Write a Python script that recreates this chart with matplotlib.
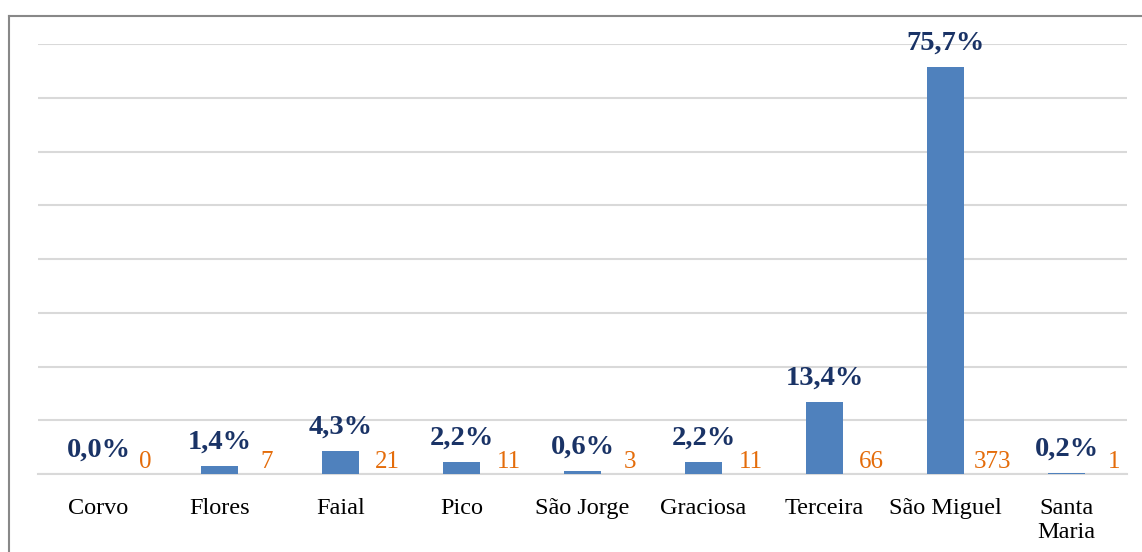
import matplotlib

matplotlib.use("Agg")
import matplotlib.pyplot as plt
from matplotlib.lines import Line2D

islands = ["Corvo", "Flores", "Faial", "Pico", "São Jorge", "Graciosa",
           "Terceira", "São Miguel", "Santa\nMaria"]
pct = [0.0, 1.4, 4.3, 2.2, 0.6, 2.2, 13.4, 75.7, 0.2]
counts = [0, 7, 21, 11, 3, 11, 66, 373, 1]

BAR = "#4F81BD"
NAVY = "#1A3366"
ORANGE = "#E46C0A"
GRID = "#D9D9D9"
FONT = "Liberation Serif"

fig = plt.figure(figsize=(11.42, 5.52), dpi=100)
ax = fig.add_axes([38 / 1142, 78 / 552, 1089 / 1142, 430 / 552])

x = list(range(len(islands)))
ax.bar(x, pct, width=0.314, color=BAR, zorder=3)

for xi, p, c in zip(x, pct, counts):
    ax.annotate(f"{p:.1f}%".replace(".", ","), (xi, p), xytext=(0, 12.5),
                textcoords="offset points", ha="center", va="baseline",
                fontsize=20.5, fontweight="bold", color=NAVY, family=FONT)
    ax.annotate(str(c), (xi + 0.39, 0), xytext=(0, 4.5),
                textcoords="offset points", ha="center", va="baseline",
                fontsize=18, color=ORANGE, family=FONT)

ax.set_xlim(-0.5, len(islands) - 0.5)
ax.set_ylim(0, 80)
ax.set_yticks(range(0, 81, 10))
ax.set_yticklabels([])
ax.tick_params(axis="y", length=0)
ax.grid(axis="y", color=GRID, linewidth=1.5, zorder=0)
ax.set_xticks(x)
ax.set_xticklabels(islands, fontsize=17.5, family=FONT, linespacing=1.2)
ax.tick_params(axis="x", length=0, pad=17)
for side in ["top", "right", "left"]:
    ax.spines[side].set_visible(False)
ax.spines["bottom"].set_color(GRID)
ax.spines["bottom"].set_linewidth(1.5)

# outer frame (left and top edges only)
fig.add_artist(Line2D([9 / 1142, 9 / 1142], [0, 1 - 16 / 552],
                      transform=fig.transFigure, color="#888888", lw=1.5))
fig.add_artist(Line2D([9 / 1142, 1], [1 - 16 / 552, 1 - 16 / 552],
                      transform=fig.transFigure, color="#888888", lw=1.5))

fig.savefig("out.png", dpi=100)
